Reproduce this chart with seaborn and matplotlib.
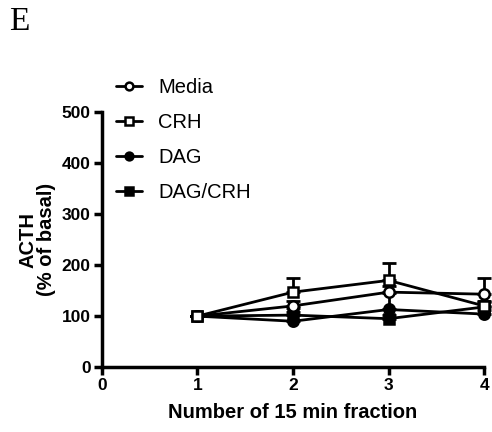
import numpy as np
import pandas as pd
import seaborn as sns
import matplotlib.pyplot as plt

# fractions (15 min each)
fractions = [1, 2, 3, 4]

# ACTH, % of basal
media = [100, 120, 147, 143]
media_err = [0, 10, 12, 32]
crh = [100, 147, 170, 120]
crh_err = [0, 28, 35, 10]
dag = [100, 90, 113, 104]
dag_err = [0, 25, 32, 8]
dag_crh = [100, 102, 95, 118]
dag_crh_err = [0, 6, 8, 10]

series_names = ['Media', 'CRH', 'DAG', 'DAG/CRH']
series_vals = [media, crh, dag, dag_crh]
series_errs = [media_err, crh_err, dag_err, dag_crh_err]
series_markers = ['o', 's', 'o', 's']
series_faces = ['white', 'white', 'black', 'black']
# drawing order, so the open square sits on top at fraction 1
draw_order = [3, 2, 0, 1]

sns.set_style('ticks')
plt.rcParams['font.family'] = ['Liberation Sans', 'DejaVu Sans']
plt.rcParams['text.color'] = 'black'
plt.rcParams['axes.labelcolor'] = 'black'
plt.rcParams['xtick.color'] = 'black'
plt.rcParams['ytick.color'] = 'black'

fig = plt.figure(figsize=(4.92, 4.32), dpi=100)
ax = fig.add_axes([0.207, 0.150, 0.777, 0.591])

handles = {}
for i in draw_order:
    name, vals, errs = series_names[i], series_vals[i], series_errs[i]
    df = pd.DataFrame({'fraction': fractions, 'acth': vals})
    # one-sided (upward) error bars like in prism
    ax.errorbar(fractions, vals, yerr=[np.zeros(len(errs)), errs], fmt='none',
                ecolor='black', elinewidth=2, capsize=5, capthick=2, clip_on=False, zorder=2 + i * 0.01)
    sns.lineplot(data=df, x='fraction', y='acth', ax=ax, color='black', lw=2,
                 marker=series_markers[i], markersize=7.5, markerfacecolor=series_faces[i],
                 markeredgecolor='black', markeredgewidth=1.8, label=name, clip_on=False,
                 zorder=3 + draw_order.index(i) * 0.1)
    handles[name] = ax.lines[-1]

ax.set_xlim(0, 4)
ax.set_ylim(0, 500)
ax.set_xticks([0, 1, 2, 3, 4])
ax.set_yticks([0, 100, 200, 300, 400, 500])
sns.despine(ax=ax)
for sp in ['left', 'bottom']:
    ax.spines[sp].set_linewidth(2.5)
    ax.spines[sp].set_color('black')
ax.tick_params(width=2.5, length=6, direction='out', labelsize=12.5, pad=2)
for lab in ax.get_xticklabels() + ax.get_yticklabels():
    lab.set_fontweight('bold')

ax.set_xlabel('Number of 15 min fraction', fontsize=14.5, fontweight='bold', labelpad=7)
ax.set_ylabel('ACTH\n(% of basal)', fontsize=14.5, fontweight='bold', labelpad=4, linespacing=1.0)

ax.legend([handles[n] for n in series_names], series_names,
          loc='upper left', bbox_to_anchor=(0.215, 0.843), bbox_transform=fig.transFigure,
          frameon=False, fontsize=14.5, handlelength=1.3, handletextpad=0.8,
          labelspacing=0.8, borderpad=0, markerscale=0.75)

fig.text(0.018, 0.985, 'E', family=['Liberation Serif', 'DejaVu Serif'], fontsize=24, va='top')

fig.savefig('out.png', dpi=100)
